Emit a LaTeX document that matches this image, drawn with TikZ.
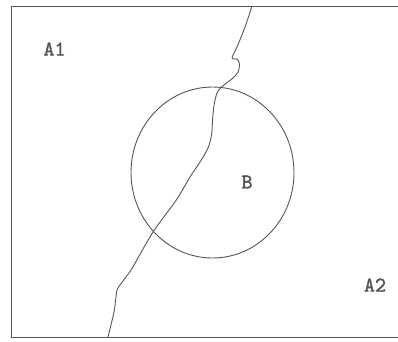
\documentclass[tikz,border=0pt]{standalone}
\usepackage{fontspec}
\newfontfamily\labfont[FakeBold=1.6]{lmmono10-regular.otf}
\definecolor{ink}{RGB}{85,85,85}
\tikzset{
  lbl/.style={font=\labfont\bfseries\fontsize{21}{21}\selectfont, text=ink, inner sep=0pt},
  ln/.style={draw=ink, line width=0.9pt}
}
\begin{document}
\begin{tikzpicture}[x=1pt,y=-1pt]
\useasboundingbox (0,0) rectangle (398,341);
\draw[ln] (400,6) -- (11,6) -- (11,337) -- (400,337);
\draw[ln] (212.5,172.5) ellipse [x radius=81.5, y radius=85.5];
\draw[ln, line join=round] plot[smooth, tension=0.5] coordinates {
 (252,6) (245,27) (237,47) (232,58) (237,59) (239.5,64) (238,72) (233,78) (224,85) (218,91) (215,100) (213,114) (211.5,135) (208,148) (200,162) (190,177) (177,199) (163,218) (153,232) (143,249) (131,270) (118,288) (116,297) (114,312) (108,337)};
\node[lbl] (a1) at (54.5,49) {A1};
\node[lbl] (b) at (247,182) {B};
\node[lbl] (a2) at (375,285) {A2};
\end{tikzpicture}
\end{document}
